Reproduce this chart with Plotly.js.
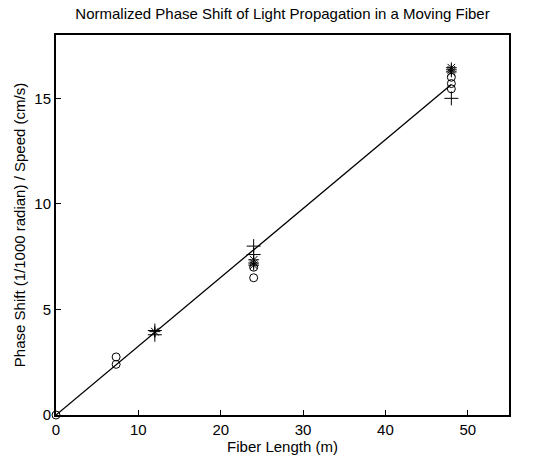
<!DOCTYPE html>
<html>
<head>
<meta charset="utf-8">
<script src="https://cdn.plot.ly/plotly-3.0.1.min.js"></script>
<style>html,body{margin:0;padding:0;background:#fff;}#chart{width:558px;height:461px;}</style>
</head>
<body>
<div id="chart"></div>
<script>
// Fiber lengths (m) and normalized phase shifts (1/1000 rad per cm/s)
const circleX = [0, 7.3, 7.3, 24, 24, 48, 48, 48];
const circleY = [0, 2.75, 2.4, 7.0, 6.5, 16.0, 15.7, 15.45];
const plusX = [12, 12, 24, 24, 48];
const plusY = [4.0, 3.8, 8.0, 7.6, 15.0];
const starX = [12, 24, 24, 24, 48, 48, 48];
const starY = [3.95, 7.35, 7.2, 7.1, 16.45, 16.35, 16.25];
const fitX = [0, 48];
const fitY = [0, 15.65];
const xTicks = [0, 10, 20, 30, 40, 50];
const yTicks = [0, 5, 10, 15];

const font = {family: 'Liberation Sans, Arial, sans-serif', size: 15, color: '#000'};
const traces = [
  {x: fitX, y: fitY, mode: 'lines', line: {color: '#000', width: 1.3}, showlegend: false, cliponaxis: false},
  {x: circleX, y: circleY, mode: 'markers', marker: {symbol: 'circle-open', size: 8, color: '#000', line: {width: 1}}, showlegend: false, cliponaxis: false},
  {x: plusX, y: plusY, mode: 'markers', marker: {symbol: 'cross-thin-open', size: 10, color: '#000', line: {width: 1}}, showlegend: false, cliponaxis: false},
  {x: starX, y: starY, mode: 'markers', marker: {symbol: 'asterisk-open', size: 9, color: '#000', line: {width: 1}}, showlegend: false, cliponaxis: false}
];
const layout = {
  width: 558, height: 461,
  margin: {l: 56, r: 49, t: 35, b: 46},
  paper_bgcolor: '#fff', plot_bgcolor: '#fff',
  font: font,
  title: {text: 'Normalized Phase Shift of Light Propagation in a Moving Fiber', font: font, x: 0.5, xref: 'paper', xanchor: 'center', y: 0.97, yanchor: 'middle'},
  xaxis: {range: [0, 55], tickvals: xTicks, ticktext: xTicks.map(String), ticks: 'inside', ticklen: 5, tickcolor: '#000', showgrid: false, zeroline: false, showline: true, mirror: true, linecolor: '#000', linewidth: 2,
    title: {text: 'Fiber Length (m)', font: font, standoff: 1}, tickfont: font},
  yaxis: {range: [0, 18], tickvals: yTicks, ticktext: yTicks.map(String), ticks: 'inside', ticklen: 5, tickcolor: '#000', showgrid: false, zeroline: false, showline: true, mirror: true, linecolor: '#000', linewidth: 2,
    title: {text: 'Phase Shift (1/1000 radian) / Speed (cm/s)', font: font, standoff: 5}, tickfont: font}
};
Plotly.newPlot('chart', traces, layout, {displayModeBar: false, staticPlot: true});
</script>
</body>
</html>
